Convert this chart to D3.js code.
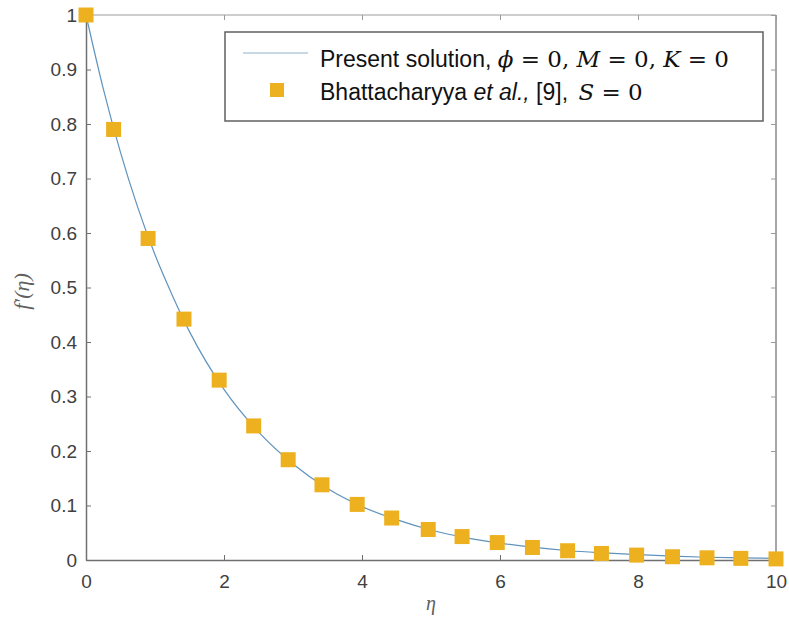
<!DOCTYPE html>
<html>
<head>
<meta charset="utf-8">
<script src="https://cdn.jsdelivr.net/npm/d3@7"></script>
<style>
  body { margin: 0; background: #fff; }
  .tick text { font-family: 'Liberation Sans', Arial, sans-serif; fill: #404040; }
</style>
</head>
<body>
<div id="chart"></div>
<script>
// Bhattacharyya et al. comparison points (eta, f')
const etaMarkers = [0, 0.40, 0.90, 1.42, 1.93, 2.43, 2.93, 3.42, 3.93, 4.43, 4.96, 5.45, 5.96, 6.47, 6.98, 7.47, 7.98, 8.50, 9.00, 9.49, 10]
const fMarkers = [1, 0.790, 0.590, 0.442, 0.330, 0.246, 0.184, 0.138, 0.102, 0.077, 0.056, 0.043, 0.032, 0.023, 0.017, 0.012, 0.009, 0.006, 0.004, 0.003, 0.002]

// present solution curve
const etaLine = [0, 0.25, 0.5, 0.75, 1, 1.25, 1.5, 2, 2.5, 3, 3.5, 4, 4.5, 5, 5.5, 6, 6.5, 7, 7.5, 8, 8.5, 9, 9.5, 10]
const fLine = [1, 0.865, 0.748, 0.647, 0.560, 0.486, 0.419, 0.313, 0.235, 0.176, 0.131, 0.098, 0.074, 0.055, 0.041, 0.031, 0.023, 0.017, 0.013, 0.0097, 0.007, 0.005, 0.004, 0.003]

const xTicks = [0, 2, 4, 6, 8, 10]
const yTicks = [0, 0.1, 0.2, 0.3, 0.4, 0.5, 0.6, 0.7, 0.8, 0.9, 1]
const yTickLabels = ['0', '0.1', '0.2', '0.3', '0.4', '0.5', '0.6', '0.7', '0.8', '0.9', '1']

const margin = { top: 15, left: 86, right: 13, bottom: 66 }
const width = 789 - margin.left - margin.right
const height = 626 - margin.top - margin.bottom

const svg = d3.select('#chart')
  .append('svg')
  .attr('width', 789)
  .attr('height', 626)
  .append('g')
  .attr('transform', 'translate(' + margin.left + ',' + margin.top + ')')

const xPositionScale = d3.scaleLinear().domain([0, 10]).range([0, width])
const yPositionScale = d3.scaleLinear().domain([0, 1]).range([height, 0])

// box (top/right lighter because of the downscaled original)
svg.append('line').attr('x1', 0).attr('x2', width).attr('y1', 0).attr('y2', 0)
  .attr('stroke', '#bdbdbd').attr('stroke-width', 1.5)
svg.append('line').attr('x1', width).attr('x2', width).attr('y1', 0).attr('y2', height)
  .attr('stroke', '#8a8a8a').attr('stroke-width', 1.5)

// mirrored ticks top / right
svg.append('g')
  .attr('class', 'axis top-axis')
  .call(d3.axisTop(xPositionScale).tickValues(xTicks).tickSize(-5).tickSizeOuter(0).tickFormat(''))
svg.append('g')
  .attr('class', 'axis right-axis')
  .attr('transform', 'translate(' + width + ',0)')
  .call(d3.axisRight(yPositionScale).tickValues(yTicks).tickSize(-5).tickSizeOuter(0).tickFormat(''))
svg.selectAll('.top-axis path, .right-axis path').remove()
svg.selectAll('.top-axis line, .right-axis line').attr('stroke', '#9a9a9a')

// x axis
const xAxis = d3.axisBottom(xPositionScale)
  .tickValues(xTicks)
  .tickSize(-5)
  .tickSizeOuter(0)
  .tickPadding(15)
svg.append('g')
  .attr('class', 'axis x-axis')
  .attr('transform', 'translate(0,' + height + ')')
  .call(xAxis)

// y axis
const yAxis = d3.axisLeft(yPositionScale)
  .tickValues(yTicks)
  .tickSize(-5)
  .tickSizeOuter(0)
  .tickPadding(9)
  .tickFormat((d, i) => yTickLabels[i])
svg.append('g')
  .attr('class', 'axis y-axis')
  .call(yAxis)

svg.selectAll('.x-axis path, .y-axis path').attr('stroke', '#707070').attr('stroke-width', 1.5)
svg.selectAll('.x-axis line, .y-axis line').attr('stroke', '#707070')
svg.selectAll('.x-axis text, .y-axis text').attr('font-size', 19)

// curve
const lineData = etaLine.map((d, i) => ({ eta: d, f: fLine[i] }))
const line = d3.line()
  .x(d => xPositionScale(d.eta))
  .y(d => yPositionScale(d.f))
  .curve(d3.curveMonotoneX)

svg.append('path')
  .datum(lineData)
  .attr('fill', 'none')
  .attr('stroke', '#5f93bd')
  .attr('stroke-width', 1.2)
  .attr('d', line)

// markers
const markerData = etaMarkers.map((d, i) => ({ eta: d, f: fMarkers[i] }))
const ms = 15
svg.selectAll('.marker')
  .data(markerData)
  .enter()
  .append('rect')
  .attr('class', 'marker')
  .attr('x', d => xPositionScale(d.eta) - ms / 2)
  .attr('y', d => yPositionScale(d.f) - ms / 2)
  .attr('width', ms)
  .attr('height', ms)
  .attr('fill', '#edb120')

// axis labels
svg.append('text')
  .attr('x', width / 2)
  .attr('y', height + 50)
  .attr('text-anchor', 'middle')
  .attr('font-family', "'Liberation Serif', 'DejaVu Serif', serif")
  .attr('font-style', 'italic')
  .attr('font-size', 20)
  .attr('fill', '#606060')
  .text('η')

svg.append('text')
  .attr('transform', 'translate(' + (-57) + ',' + (height / 2 + 4) + ') rotate(-90)')
  .attr('text-anchor', 'middle')
  .attr('font-family', "'Liberation Serif', 'DejaVu Serif', serif")
  .attr('font-style', 'italic')
  .attr('font-size', 22)
  .attr('fill', '#606060')
  .text('f′(η)')

// legend
const legend = svg.append('g').attr('transform', 'translate(' + (225 - margin.left) + ',' + (32 - margin.top) + ')')
legend.append('rect')
  .attr('width', 538)
  .attr('height', 89)
  .attr('fill', '#fff')
  .attr('stroke', '#606060')
  .attr('stroke-width', 1.5)
legend.append('line')
  .attr('x1', 18).attr('x2', 83).attr('y1', 21).attr('y2', 21)
  .attr('stroke', '#8fb3cf').attr('stroke-width', 1.2)
legend.append('rect')
  .attr('x', 52 - 7).attr('y', 58 - 7).attr('width', 14).attr('height', 14)
  .attr('fill', '#edb120')

const sans = "'Liberation Sans', Arial, sans-serif"
const mathFont = "'DejaVu Serif', 'Liberation Serif', serif"

const t1 = legend.append('text').attr('x', 95).attr('y', 35).attr('font-size', 23).attr('fill', '#111')
t1.append('tspan').attr('font-family', sans).text('Present solution, ')
t1.append('tspan').attr('font-family', mathFont).attr('font-style', 'italic').text('ϕ')
t1.append('tspan').attr('font-family', mathFont).text(' = 0, ')
t1.append('tspan').attr('font-family', mathFont).attr('font-style', 'italic').text('M')
t1.append('tspan').attr('font-family', mathFont).text(' = 0, ')
t1.append('tspan').attr('font-family', mathFont).attr('font-style', 'italic').text('K')
t1.append('tspan').attr('font-family', mathFont).text(' = 0')

const t2 = legend.append('text').attr('x', 95).attr('y', 68).attr('font-size', 23).attr('fill', '#111')
t2.append('tspan').attr('font-family', sans).text('Bhattacharyya ')
t2.append('tspan').attr('font-family', sans).attr('font-style', 'italic').text('et al.,')
t2.append('tspan').attr('font-family', sans).text(' [9], ')
t2.append('tspan').attr('font-family', mathFont).attr('font-style', 'italic').attr('dx', 4).text('S')
t2.append('tspan').attr('font-family', mathFont).text(' = 0')
</script>
</body>
</html>
